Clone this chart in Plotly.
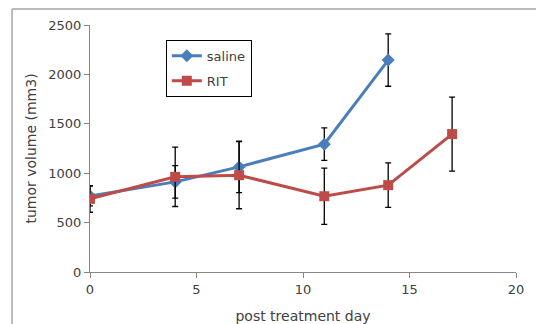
import plotly.graph_objects as go

days_saline = [0, 4, 7, 11, 14]
saline = [770, 912, 1064, 1294, 2145]
saline_err = [100, 165, 260, 165, 265]

days_rit = [0, 4, 7, 11, 14, 17]
rit = [740, 963, 980, 767, 879, 1396]
rit_err = [135, 300, 340, 285, 225, 375]

x_ticks = [0, 5, 10, 15, 20]
y_ticks = [0, 500, 1000, 1500, 2000, 2500]

font = "DejaVu Sans"
fig = go.Figure()
fig.add_trace(go.Scatter(
    x=days_saline, y=saline, name="saline", mode="lines+markers", legendgroup="a",
    line=dict(color="#4A7EBB", width=3),
    marker=dict(symbol="diamond", size=10, color="#4A7EBB"),
    error_y=dict(type="data", array=saline_err, color="black", thickness=1.3, width=3),
))
fig.add_trace(go.Scatter(
    x=days_rit, y=rit, name="RIT", mode="lines+markers", legendgroup="b",
    line=dict(color="#BE4B48", width=3),
    marker=dict(symbol="square", size=10, color="#BE4B48"),
    error_y=dict(type="data", array=rit_err, color="black", thickness=1.3, width=3),
))

fig.update_layout(
    width=536, height=316,
    margin=dict(l=82, r=28, t=17, b=52, autoexpand=False),
    paper_bgcolor="white", plot_bgcolor="white",
    font=dict(family=font, size=13, color="#404040"),
    showlegend=True,
    legend=dict(x=0.178, y=0.94, xanchor="left", yanchor="top",
                bordercolor="black", borderwidth=1, bgcolor="white",
                font=dict(family=font, size=13, color="#404040"),
                itemwidth=30, traceorder="grouped", tracegroupgap=5),
    shapes=[
        dict(type="line", xref="paper", yref="paper", x0=-0.183, x1=1.1, y0=1.0648, y1=1.0648,
             line=dict(color="#a6a6a6", width=1.5)),
        dict(type="line", xref="paper", yref="paper", x0=-0.183, x1=-0.183, y0=1.0648, y1=-0.3,
             line=dict(color="#a6a6a6", width=1.5)),
    ],
)
fig.update_xaxes(range=[0, 20], tickvals=x_ticks, showgrid=False, zeroline=False,
                 showline=True, linecolor="#868686", linewidth=1, automargin=False,
                 ticks="outside", ticklen=5, tickcolor="#868686",
                 title=dict(text="post treatment day", standoff=16,
                            font=dict(family=font, size=14, color="#404040")))
fig.update_yaxes(range=[0, 2500], tickvals=y_ticks, showgrid=False, zeroline=False,
                 showline=True, linecolor="#868686", linewidth=1, automargin=False,
                 ticks="outside", ticklen=5, tickcolor="#868686",
                 title=dict(text="tumor volume (mm3)", standoff=8,
                            font=dict(family=font, size=14, color="#404040")))
fig.write_html("out.html")
